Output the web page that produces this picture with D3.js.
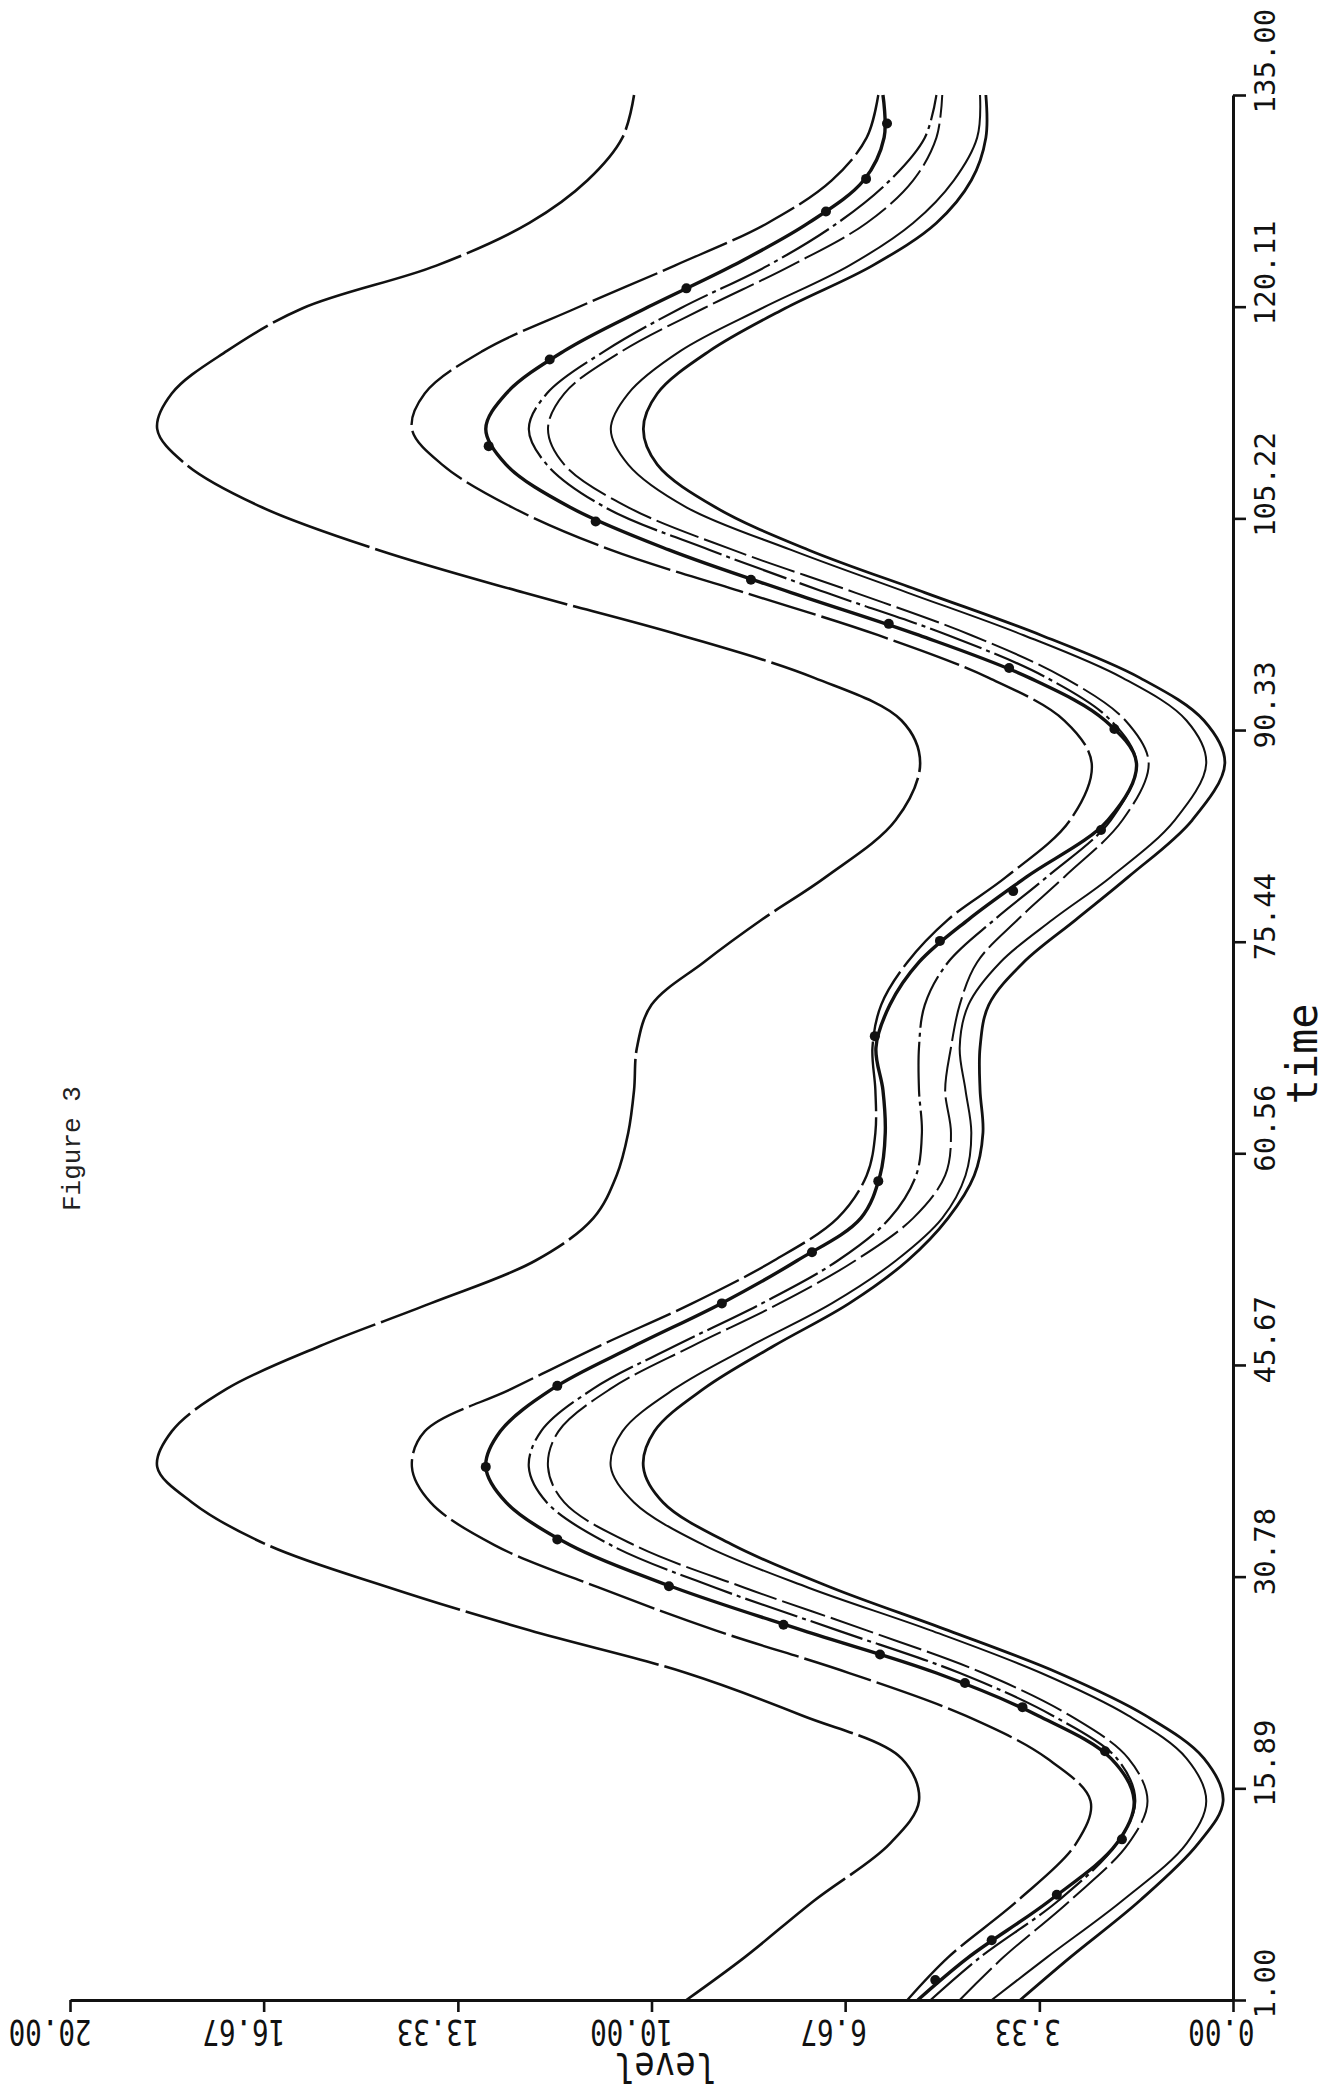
<!DOCTYPE html>
<html>
<head>
<meta charset="utf-8">
<title>Figure 3</title>
<script src="https://cdn.jsdelivr.net/npm/d3@7"></script>
<style>
	body { margin: 0; background: #fff; }
	svg { display: block; }
</style>
</head>
<body>
<div id="chart"></div>
<script>
'use strict';

// time grid shared by every curve
const times = [1, 4, 8, 12, 15, 18, 21, 24, 27, 30, 33, 36, 38.5, 41, 44, 47, 50, 53, 56, 59,
	62, 65, 68, 71, 74, 77, 80, 84, 88, 91, 94, 97, 100, 103, 106, 109, 111.5, 114, 117, 120,
	123, 126, 129, 132, 135];

// level of each curve at those times, outermost first
const levelA = [9.4, 8.4, 7.2, 5.9, 5.4, 5.7, 7.4, 9.4, 12.1, 14.5, 16.6, 17.9, 18.5, 18.25, 17.3, 15.7, 13.8, 12.0, 11.0, 10.6,
	10.4, 10.3, 10.25, 10.0, 9.1, 8.1, 7.0, 5.8, 5.38, 5.7, 7.2, 9.5, 12.2, 14.7, 16.7, 18.0, 18.5, 18.25, 17.3, 16.0,
	13.7, 12.1, 11.1, 10.5, 10.3];
const levelB = [5.6, 4.9, 3.7, 2.7, 2.45, 3.2, 4.6, 6.6, 8.9, 10.9, 12.7, 13.8, 14.12, 13.9, 12.4, 10.9, 9.3, 7.9, 6.8, 6.3,
	6.15, 6.15, 6.2, 6.05, 5.6, 4.9, 3.9, 2.8, 2.43, 2.9, 4.2, 6.1, 8.4, 10.7, 12.4, 13.6, 14.12, 13.9, 12.9, 11.3,
	9.6, 8.0, 6.9, 6.3, 6.1];
const levelC = [5.42, 4.55, 3.15, 2.0, 1.7, 2.1, 3.35, 5.1, 7.4, 9.6, 11.4, 12.5, 12.85, 12.6, 11.7, 10.3, 8.8, 7.5, 6.4, 6.07,
	5.98, 6.02, 6.14, 5.9, 5.4, 4.55, 3.55, 2.15, 1.66, 2.2, 3.5, 5.4, 7.6, 9.7, 11.4, 12.5, 12.85, 12.5, 11.5, 10.1,
	8.6, 7.3, 6.35, 6.0, 6.02];
const levelD = [5.2, 4.35, 3.0, 2.0, 1.68, 2.0, 3.1, 4.7, 6.8, 8.9, 10.7, 11.8, 12.11, 11.9, 11.0, 9.6, 8.1, 6.8, 5.9, 5.45,
	5.35, 5.4, 5.4, 5.3, 4.9, 4.1, 3.2, 2.1, 1.66, 2.1, 3.2, 4.9, 7.0, 9.0, 10.8, 11.8, 12.11, 11.8, 10.8, 9.5,
	8.0, 6.8, 5.9, 5.3, 5.1];
const levelE = [4.7, 3.95, 2.8, 1.8, 1.47, 1.8, 2.8, 4.3, 6.3, 8.4, 10.3, 11.5, 11.78, 11.6, 10.7, 9.3, 7.8, 6.5, 5.5, 4.95,
	4.85, 4.95, 4.85, 4.7, 4.4, 3.7, 2.9, 1.9, 1.45, 1.85, 2.9, 4.5, 6.5, 8.6, 10.4, 11.5, 11.78, 11.5, 10.5, 9.1,
	7.6, 6.3, 5.5, 5.1, 5.0];
const levelF = [4.15, 3.2, 1.9, 0.8, 0.46, 0.8, 1.8, 3.3, 5.2, 7.3, 9.1, 10.3, 10.7, 10.5, 9.6, 8.3, 6.9, 5.8, 5.0, 4.6,
	4.5, 4.6, 4.7, 4.55, 4.0, 3.1, 2.1, 1.0, 0.46, 0.8, 1.9, 3.6, 5.6, 7.6, 9.4, 10.4, 10.7, 10.4, 9.5, 8.1,
	6.6, 5.5, 4.8, 4.4, 4.35];
const levelG = [3.66, 2.8, 1.6, 0.6, 0.17, 0.5, 1.5, 3.0, 4.9, 6.9, 8.6, 9.8, 10.14, 9.95, 9.1, 7.9, 6.6, 5.6, 4.9, 4.45,
	4.3, 4.35, 4.35, 4.2, 3.6, 2.7, 1.8, 0.7, 0.14, 0.5, 1.6, 3.3, 5.3, 7.3, 8.9, 9.9, 10.14, 9.9, 9.0, 7.7,
	6.2, 5.1, 4.5, 4.25, 4.25];

// plotted symbols on curve C : [time, level]
const dotsC = [[2.4, 5.12], [5.2, 4.15], [8.4, 3.03], [12.3, 1.91], [18.5, 2.2], [21.6, 3.62], [23.3, 4.61],
	[25.3, 6.07], [27.4, 7.73], [30.1, 9.7], [33.4, 11.62], [38.5, 12.85], [44.2, 11.62], [50.0, 8.79],
	[53.6, 7.24], [58.6, 6.1], [68.8, 6.16], [75.5, 5.04], [79.0, 3.78], [83.3, 2.27], [90.4, 2.04],
	[94.7, 3.85], [97.8, 5.92], [100.9, 8.29], [105.0, 10.96], [110.3, 12.8], [116.4, 11.75],
	[121.4, 9.4], [126.8, 7.0], [129.1, 6.31], [133.0, 5.95]];

// axes
const levelTicks = [0, 3.33, 6.67, 10, 13.33, 16.67, 20];
const levelLabels = ["0.00", "3.33", "6.67", "10.00", "13.33", "16.67", "20.00"];
const timeTicks = [1, 15.89, 30.78, 45.67, 60.56, 75.44, 90.33, 105.22, 120.11, 135];
const timeLabels = ["1.00", "15.89", "30.78", "45.67", "60.56", "75.44", "90.33", "105.22", "120.11", "135.00"];

const mono = "'DejaVu Sans Mono', 'Liberation Mono', monospace";

const svg = d3.select("#chart")
	.append("svg")
		.attr("width", 1337)
		.attr("height", 2096)
		.style("background", "#fff")
	;

// the page is turned: time runs up the right side, level runs right-to-left along the bottom
const levelScale = d3.scaleLinear()
	.domain([0, 20])
	.range([1233, 70])
	;
const timeScale = d3.scaleLinear()
	.domain([1, 135])
	.range([2000, 95])
	;

// curves - plotter line types are long dashes with short gaps
const series = [
	{ key: "A", values: levelA, width: 2.6, dash: "200,6" },
	{ key: "B", values: levelB, width: 2.4, dash: "70,6" },
	{ key: "C", values: levelC, width: 3.4, dash: null },
	{ key: "D", values: levelD, width: 2.2, dash: "55,5,4,5" },
	{ key: "E", values: levelE, width: 2.0, dash: "45,6" },
	{ key: "F", values: levelF, width: 2.0, dash: null },
	{ key: "G", values: levelG, width: 2.8, dash: null },
];

const lineGenerator = d3.line()
	.x(d => levelScale(d[1]))
	.y(d => timeScale(d[0]))
	.curve(d3.curveCatmullRom.alpha(0.5))
	;

svg.append("g")
	.selectAll("path")
	.data(series)
	.join("path")
		.attr("d", s => lineGenerator(times.map((t, i) => [t, s.values[i]])))
		.attr("fill", "none")
		.attr("stroke", "#111")
		.attr("stroke-width", s => s.width)
		.attr("stroke-dasharray", s => s.dash)
		.attr("stroke-linejoin", "round")
	;

svg.append("g")
	.selectAll("circle")
	.data(dotsC)
	.join("circle")
		.attr("cx", d => levelScale(d[1]))
		.attr("cy", d => timeScale(d[0]))
		.attr("r", 5)
		.attr("fill", "#111")
	;

// level axis (bottom), labels upside down
const levelAxisGenerator = d3.axisBottom(levelScale)
	.tickValues(levelTicks)
	.tickSize(12)
	.tickSizeOuter(0)
	.tickFormat((d, i) => levelLabels[i])
	;
const levelAxis = svg.append("g")
	.attr("transform", "translate(0,2000)")
	.call(levelAxisGenerator)
	.attr("font-family", mono)
	.attr("font-size", 27.5)
	;
levelAxis.select(".domain").attr("stroke-width", 3).attr("stroke", "#111");
levelAxis.selectAll(".tick line").attr("stroke-width", 2.6).attr("stroke", "#111");
levelAxis.selectAll(".tick text")
	.attr("x", null)
	.attr("y", null)
	.attr("dy", null)
	.attr("fill", "#111")
	.attr("text-anchor", "start")
	.attr("transform", "translate(21,20) rotate(180) scale(1,1.3)")
	;

// time axis (right), labels reading upwards
const timeAxisGenerator = d3.axisRight(timeScale)
	.tickValues(timeTicks)
	.tickSize(13)
	.tickSizeOuter(0)
	.tickFormat((d, i) => timeLabels[i])
	;
const timeAxis = svg.append("g")
	.attr("transform", "translate(1233,0)")
	.call(timeAxisGenerator)
	.attr("font-family", mono)
	.attr("font-size", 29)
	;
timeAxis.select(".domain").attr("stroke-width", 3).attr("stroke", "#111");
timeAxis.selectAll(".tick line").attr("stroke-width", 2.6).attr("stroke", "#111");
timeAxis.selectAll(".tick text")
	.attr("x", null)
	.attr("y", null)
	.attr("dy", null)
	.attr("fill", "#111")
	.attr("text-anchor", "start")
	.attr("transform", "translate(42,18) rotate(-90)")
	;

// axis titles
svg.append("text")
	.attr("transform", "translate(1317,1054) rotate(-90)")
	.attr("text-anchor", "middle")
	.attr("font-family", mono)
	.attr("font-size", 42)
	.attr("fill", "#111")
	.text("time")
	;
svg.append("text")
	.attr("transform", "translate(665,2053) rotate(180) scale(1,1.2)")
	.attr("text-anchor", "middle")
	.attr("font-family", mono)
	.attr("font-size", 34)
	.attr("fill", "#111")
	.text("level")
	;
svg.append("text")
	.attr("transform", "translate(80,1211) rotate(-90)")
	.attr("text-anchor", "start")
	.attr("font-family", "'Liberation Mono', 'DejaVu Sans Mono', monospace")
	.attr("font-size", 26)
	.attr("fill", "#222")
	.text("Figure 3")
	;
</script>
</body>
</html>
